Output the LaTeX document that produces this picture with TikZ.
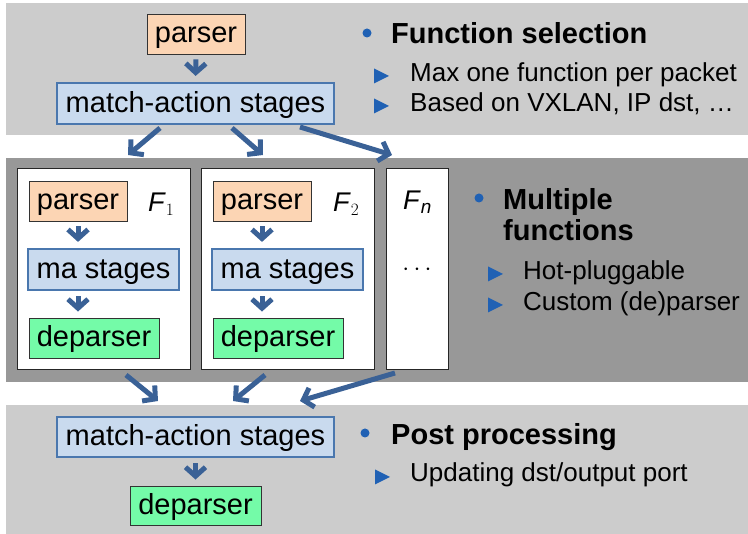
\documentclass[tikz,border=0pt]{standalone}
\usepackage{fontspec}
\setmainfont{Liberation Sans}
\usetikzlibrary{arrows.meta}

\definecolor{bandlight}{HTML}{CCCCCC}
\definecolor{banddark}{HTML}{989898}
\definecolor{peach}{HTML}{FCD5B4}
\definecolor{mablue}{HTML}{C9DAEE}
\definecolor{maborder}{HTML}{4A77AE}
\definecolor{mint}{HTML}{74FBA8}
\definecolor{flowblue}{HTML}{3A6196}
\definecolor{markblue}{HTML}{2061B4}

\tikzset{
  boxtext/.style={font=\fontsize{29}{34}\selectfont, text height=21pt, text depth=3pt, inner sep=0pt, align=center},
  parsebox/.style={boxtext, draw=black!80, line width=0.9pt, fill=peach, minimum height=40pt},
  mabox/.style={boxtext, draw=maborder, line width=2.2pt, fill=mablue, minimum height=41pt},
  depbox/.style={boxtext, draw=black!80, line width=0.9pt, fill=mint, minimum height=40pt},
  funcbox/.style={draw=black!85, line width=1pt, fill=white},
  flow/.style={draw=flowblue, line width=5pt, -{Straight Barb[length=9pt,width=20pt]}},
  chev/.style={flow, shorten <=5pt, shorten >=6pt},
  head/.style={font=\fontsize{29}{34}\selectfont\bfseries, anchor=base west, inner sep=0pt},
  item/.style={font=\fontsize{26}{30}\selectfont, anchor=base west, inner sep=0pt},
  flabel/.style={font=\fontsize{27}{30}\selectfont, anchor=base west, inner sep=0pt},
  dotmark/.style={fill=markblue, draw=none},
  trimark/.style={fill=markblue, draw=none},
}

\begin{document}
\begin{tikzpicture}[x=1pt,y=-1pt]
\useasboundingbox (0,0) rectangle (748,534);

% three horizontal bands
\fill[bandlight] (6,3) rectangle (748,135);
\fill[banddark] (6,158) rectangle (748,382);
\fill[bandlight] (6,405) rectangle (748,534);

% ---- function selection ----
\node[parsebox, minimum width=98pt] (p0) at (196,34) {parser};
\node[mabox, minimum width=277pt] (m0) at (195.5,103.5) {match-action stages};
\draw[chev] (p0.south) -- (m0.north);

\fill[dotmark] (367,33) circle (4.5pt);
\node[head] (h1) at (391,44) {Function selection};
\fill[trimark] (374,68.5) -- (389,76) -- (374,83.5) -- cycle;
\node[item] (t1a) at (410,82) {Max one function per packet};
\fill[trimark] (374,98.5) -- (389,106) -- (374,113.5) -- cycle;
\node[item] (t1b) at (410,112) {Based on VXLAN, IP dst, …};

% ---- function slots ----
\node[funcbox, minimum width=173pt, minimum height=201pt, inner sep=0pt] (f1) at (103.5,269.5) {};
\node[funcbox, minimum width=173pt, minimum height=201pt, inner sep=0pt] (f2) at (287.5,269.5) {};
\node[funcbox, minimum width=62pt, minimum height=201pt, inner sep=0pt] (fn) at (417,269.5) {};

\node[parsebox, minimum width=98pt] (p1) at (78,201) {parser};
\node[mabox, minimum width=151pt] (m1) at (103.5,269.5) {ma stages};
\node[depbox, minimum width=130pt] (d1) at (94,338) {deparser};
\node[flabel] (l1) at (148,212) {\textit{F}$_1$};
\draw[chev] (p1.south) -- (p1.south |- m1.north);
\draw[chev] (p1.south |- m1.south) -- (p1.south |- d1.north);

\node[parsebox, minimum width=98pt] (p2) at (262,201) {parser};
\node[mabox, minimum width=151pt] (m2) at (287.5,269.5) {ma stages};
\node[depbox, minimum width=130pt] (d2) at (278,338) {deparser};
\node[flabel] (l2) at (333,212) {\textit{F}$_2$};
\draw[chev] (p2.south) -- (p2.south |- m2.north);
\draw[chev] (p2.south |- m2.south) -- (p2.south |- d2.north);

\node[flabel] (ln) at (403,210) {\textit{F}\textsubscript{\textit{n}}};
\node[font=\fontsize{29}{30}\selectfont, inner sep=0pt] (dots) at (417,270) {$\cdots$};

\fill[dotmark] (479,198) circle (4.5pt);
\node[head] (h2a) at (503,210) {Multiple};
\node[head] (h2b) at (503,241) {functions};
\fill[trimark] (488,266.5) -- (503,274) -- (488,281.5) -- cycle;
\node[item] (t2a) at (523,280) {Hot-pluggable};
\fill[trimark] (488,297.5) -- (503,305) -- (488,312.5) -- cycle;
\node[item] (t2b) at (523,311) {Custom (de)parser};

% fan-out into the slots
\coordinate (o1) at (160,128); \coordinate (i1) at (128,155);
\coordinate (o2) at (232,128); \coordinate (i2) at (263,155);
\coordinate (o3) at (300,127); \coordinate (i3) at (392,155);
\draw[flow] (o1) -- (i1);
\draw[flow] (o2) -- (i2);
\draw[flow] (o3) -- (i3);

% ---- post processing ----
\node[mabox, minimum width=277pt, minimum height=40pt] (m3) at (195.5,437) {match-action stages};
\node[depbox, minimum width=131pt, minimum height=39pt] (d3) at (195.5,505.5) {deparser};
\draw[chev] (m3.south) -- (d3.north);

% fan-in from the slots
\coordinate (q1) at (126,375); \coordinate (r1) at (158,401);
\coordinate (q2) at (265,375); \coordinate (r2) at (233,401);
\coordinate (q3) at (395,373); \coordinate (r3) at (300,401);
\draw[flow] (q1) -- (r1);
\draw[flow] (q2) -- (r2);
\draw[flow] (q3) -- (r3);

\fill[dotmark] (365,433) circle (4.5pt);
\node[head] (h3) at (391,445) {Post processing};
\fill[trimark] (375,469.5) -- (390,477) -- (375,484.5) -- cycle;
\node[item] (t3) at (410,482) {Updating dst/output port};
\end{tikzpicture}
\end{document}
